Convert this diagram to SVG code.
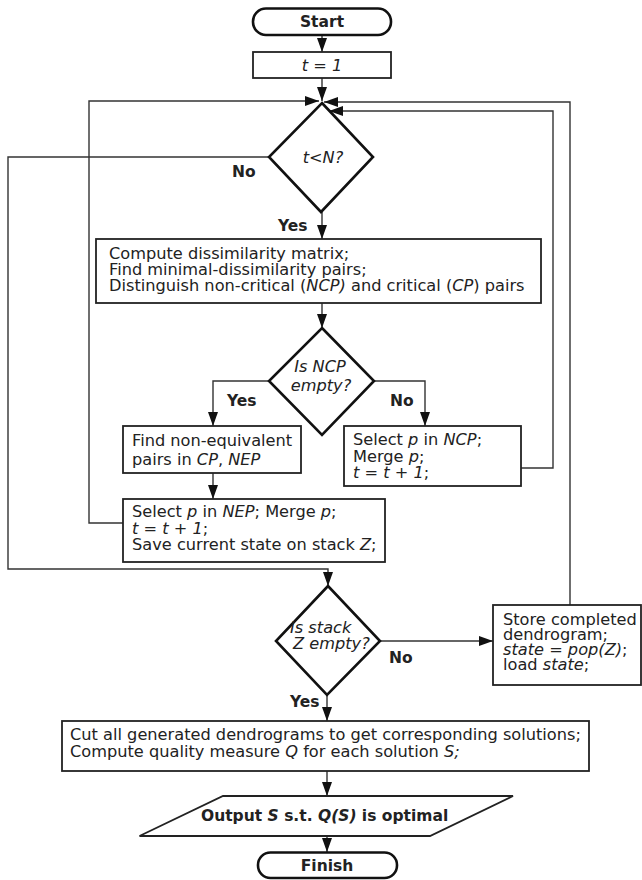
<svg xmlns="http://www.w3.org/2000/svg" width="642" height="880" viewBox="0 0 642 880">
<defs>
<marker id="arr" markerUnits="userSpaceOnUse" markerWidth="14" markerHeight="10" refX="14" refY="5" orient="auto">
<path d="M0,0 L14,5 L0,10 z" fill="#111"/>
</marker>
<style>
.bx{fill:#fff;stroke:#222;stroke-width:1.8}
.dm{fill:#fff;stroke:#111;stroke-width:2.6}
.te{fill:#fff;stroke:#111;stroke-width:2.6}
.cn{fill:none;stroke:#333;stroke-width:1.4}
.ca{fill:none;stroke:#333;stroke-width:1.4;marker-end:url(#arr)}
text{font-family:"DejaVu Sans",Verdana,sans-serif;font-size:16.2px;fill:#222}
.b{font-weight:bold;font-size:15.5px}
.i{font-style:italic}
.m{text-anchor:middle}
</style>
</defs>
<rect width="642" height="880" fill="#fff"/>
<g id="connectors">
<path class="ca" d="M322,35 V52"/>
<path class="ca" d="M322,78 V101"/>
<path class="ca" d="M123,523 H89 V101 H319"/>
<path class="ca" d="M570,605 V102 H324"/>
<path class="ca" d="M521,468 H553 V111 H329"/>
<path class="ca" d="M269,157 H8 V569 H328 V586"/>
<path class="ca" d="M322,212 V239"/>
<path class="ca" d="M322,303 V328"/>
<path class="ca" d="M269,381 H213 V426"/>
<path class="ca" d="M375,381 H425 V426"/>
<path class="ca" d="M213,473 V499"/>
<path class="ca" d="M380,641 H493"/>
<path class="ca" d="M327,695 V721"/>
<path class="ca" d="M327,771 V796"/>
<path class="ca" d="M327,836 V852"/>
</g>
<g id="start">
<rect class="te" x="253" y="8.5" width="138" height="26.5" rx="13"/>
<text class="b m" x="322" y="27">Start</text>
</g>
<g id="init">
<rect class="bx" x="253" y="52" width="138" height="26"/>
<text class="i m" x="322" y="71">t = 1</text>
</g>
<g id="cond-t">
<polygon class="dm" points="322,103 373,157 321,212 269,157"/>
<text class="i m" x="323" y="163">t&lt;N?</text>
</g>
<g id="lbl-no1"><text class="b" x="232" y="177">No</text></g>
<g id="lbl-yes1"><text class="b" x="278" y="231">Yes</text></g>
<g id="compute">
<rect class="bx" x="96" y="239" width="445" height="64"/>
<text x="109" y="259">Compute dissimilarity matrix;</text>
<text x="109" y="275">Find minimal-dissimilarity pairs;</text>
<text x="109" y="291">Distinguish non-critical (<tspan class="i">NCP)</tspan> and critical (<tspan class="i">CP</tspan>) pairs</text>
</g>
<g id="cond-ncp">
<polygon class="dm" points="322,328 374,381 322,435 269,381"/>
<text class="i m" x="320" y="372">Is NCP</text>
<text class="i m" x="321" y="391">empty?</text>
</g>
<g id="lbl-yes2"><text class="b" x="227" y="406">Yes</text></g>
<g id="lbl-no2"><text class="b" x="390" y="406">No</text></g>
<g id="find-nep">
<rect class="bx" x="123" y="426" width="178" height="47"/>
<text x="132" y="446">Find non-equivalent</text>
<text x="132" y="465">pairs in <tspan class="i">CP</tspan>, <tspan class="i">NEP</tspan></text>
</g>
<g id="select-ncp">
<rect class="bx" x="344" y="426" width="177" height="60"/>
<text x="353" y="445">Select <tspan class="i">p</tspan> in <tspan class="i">NCP</tspan>;</text>
<text x="353" y="461.5">Merge <tspan class="i">p</tspan>;</text>
<text x="353" y="478"><tspan class="i">t = t + 1</tspan>;</text>
</g>
<g id="select-nep">
<rect class="bx" x="123" y="499" width="262" height="63"/>
<text x="132" y="517">Select <tspan class="i">p</tspan> in <tspan class="i">NEP</tspan>; Merge <tspan class="i">p</tspan>;</text>
<text x="132" y="534"><tspan class="i">t = t + 1</tspan>;</text>
<text x="132" y="550">Save current state on stack <tspan class="i">Z</tspan>;</text>
</g>
<g id="cond-stack">
<polygon class="dm" points="328,586 380,641 327,695 276,641"/>
<text class="i" x="290" y="633">Is stack</text>
<text class="i" x="293" y="649">Z empty?</text>
</g>
<g id="lbl-no3"><text class="b" x="389" y="663">No</text></g>
<g id="lbl-yes3"><text class="b" x="290" y="707">Yes</text></g>
<g id="store">
<rect class="bx" x="493" y="605" width="148" height="80"/>
<text x="503" y="625">Store completed</text>
<text x="503" y="640">dendrogram;</text>
<text x="503" y="655"><tspan class="i">state = pop(Z)</tspan>;</text>
<text x="503" y="670">load <tspan class="i">state</tspan>;</text>
</g>
<g id="cut">
<rect class="bx" x="62" y="721" width="527" height="50"/>
<text x="70" y="740">Cut all generated dendrograms to get corresponding solutions;</text>
<text x="70" y="757">Compute quality measure <tspan class="i">Q</tspan> for each solution <tspan class="i">S;</tspan></text>
</g>
<g id="output">
<polygon class="bx" points="223,796 513,796 430,836 139.5,836"/>
<text class="b" x="201" y="821">Output <tspan class="i">S</tspan> s.t. <tspan class="i">Q(S)</tspan> is optimal</text>
</g>
<g id="finish">
<rect class="te" x="258" y="852.5" width="139" height="25.5" rx="12.5"/>
<text class="b m" x="327" y="871">Finish</text>
</g>
</svg>
